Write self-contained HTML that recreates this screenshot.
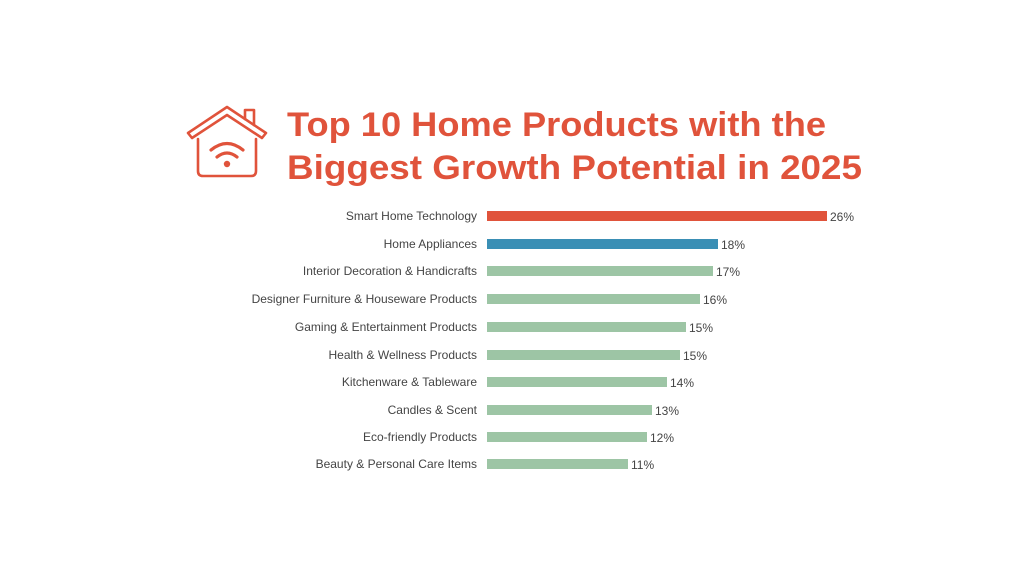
<!DOCTYPE html>
<html><head><meta charset="utf-8"><style>
body{margin:0;width:1024px;height:576px;background:#fff;overflow:hidden}
</style></head><body>
<svg width="1024" height="576" viewBox="0 0 1024 576" xmlns="http://www.w3.org/2000/svg" font-family="Liberation Sans, sans-serif">
<g fill="none" stroke="#e0533b" stroke-width="2.6" stroke-linejoin="round" stroke-linecap="round">
<path d="M188 133 L227 107 L266 133 L262 138 L227 115 L192 138 Z"/>
<path d="M245 119 L245 110 L254 110 L254 125"/>
<path d="M198 139 L198 171 Q198 176 203 176 L251 176 Q256 176 256 171 L256 139"/>
<path d="M211 150 Q227 137 243 150" stroke-width="3.2"/>
<path d="M217 157 Q227 149 237 157" stroke-width="3.2"/>
</g>
<circle cx="227" cy="164" r="3.2" fill="#e0533b"/>
<g fill="#e0533b" font-weight="bold" font-size="34">
<text x="287" y="136" textLength="539" lengthAdjust="spacingAndGlyphs">Top 10 Home Products with the</text>
<text x="287" y="179" textLength="575" lengthAdjust="spacingAndGlyphs">Biggest Growth Potential in 2025</text>
</g>
<g font-size="12" fill="#444" text-anchor="end">
<text x="477" y="220">Smart Home Technology</text>
<text x="477" y="248">Home Appliances</text>
<text x="477" y="275">Interior Decoration &amp; Handicrafts</text>
<text x="477" y="303">Designer Furniture &amp; Houseware Products</text>
<text x="477" y="331">Gaming &amp; Entertainment Products</text>
<text x="477" y="359">Health &amp; Wellness Products</text>
<text x="477" y="386">Kitchenware &amp; Tableware</text>
<text x="477" y="414">Candles &amp; Scent</text>
<text x="477" y="441">Eco-friendly Products</text>
<text x="477" y="468">Beauty &amp; Personal Care Items</text>
</g>
<g>
<rect x="487" y="211" width="340" height="10" fill="#e0533b"/>
<rect x="487" y="239" width="231" height="10" fill="#3a8fb5"/>
<rect x="487" y="266" width="226" height="10" fill="#9dc5a5"/>
<rect x="487" y="294" width="213" height="10" fill="#9dc5a5"/>
<rect x="487" y="322" width="199" height="10" fill="#9dc5a5"/>
<rect x="487" y="350" width="193" height="10" fill="#9dc5a5"/>
<rect x="487" y="377" width="180" height="10" fill="#9dc5a5"/>
<rect x="487" y="405" width="165" height="10" fill="#9dc5a5"/>
<rect x="487" y="432" width="160" height="10" fill="#9dc5a5"/>
<rect x="487" y="459" width="141" height="10" fill="#9dc5a5"/>
</g>
<g font-size="12" fill="#444">
<text x="830" y="221">26%</text>
<text x="721" y="249">18%</text>
<text x="716" y="276">17%</text>
<text x="703" y="304">16%</text>
<text x="689" y="332">15%</text>
<text x="683" y="360">15%</text>
<text x="670" y="387">14%</text>
<text x="655" y="415">13%</text>
<text x="650" y="442">12%</text>
<text x="631" y="469">11%</text>
</g>
</svg>
</body></html>
